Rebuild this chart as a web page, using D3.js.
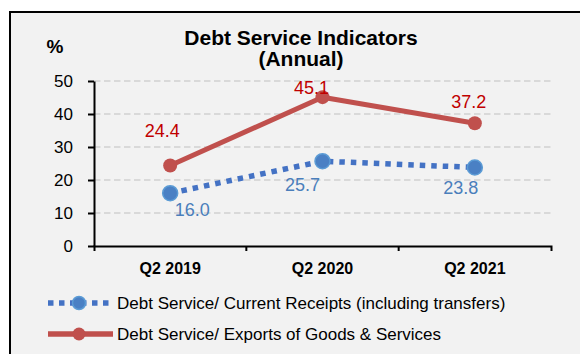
<!DOCTYPE html>
<html>
<head>
<meta charset="utf-8">
<script src="https://cdn.jsdelivr.net/npm/d3@7"></script>
<style>
  html, body { margin: 0; padding: 0; background: #ffffff; }
  svg { display: block; }
  text { font-family: "Liberation Sans", Arial, sans-serif; }
</style>
</head>
<body>
<svg id="chart" width="580" height="354"></svg>
<script>
// Quarters on the x axis
const categories = ["Q2 2019", "Q2 2020", "Q2 2021"];
// Debt service ratios, percent
const receiptsValues = [16.0, 25.7, 23.8];
const exportsValues = [24.4, 45.1, 37.2];
// Y axis ticks
const yTicks = [0, 10, 20, 30, 40, 50];
const seriesNames = [
  "Debt Service/ Current Receipts (including transfers)",
  "Debt Service/ Exports of Goods & Services"
];

// Label nudges (px) relative to each point
const exportsNudge = [[-8, -28], [-11, -3], [-6, -15]];
const receiptsNudge = [[22, 23], [-20, 30], [-14, 27]];

const svg = d3.select("#chart");

// Panel background and frame
svg.append("rect").attr("x", 10).attr("y", 12).attr("width", 600).attr("height", 360)
  .attr("fill", "#f2f2f2").attr("stroke", "#000").attr("stroke-width", 2);

const x = d3.scaleBand().domain(categories).range([94, 551]);
const y = d3.scaleLinear().domain([0, 50]).range([246, 81]);
const cx = d => x(d) + x.bandwidth() / 2;

// Gridlines
svg.append("g").selectAll("line").data(yTicks.filter(t => t > 0)).join("line")
  .attr("x1", 94).attr("x2", 551)
  .attr("y1", d => y(d)).attr("y2", d => y(d))
  .attr("stroke", "#d9d9d9").attr("stroke-width", 2)
  .attr("stroke-dasharray", "6.5,3.5");

// Y axis
const yAxis = svg.append("g").attr("transform", "translate(94,0)")
  .call(d3.axisLeft(y).tickValues(yTicks).tickSize(6).tickSizeOuter(0).tickPadding(15));
yAxis.selectAll("path, line").attr("stroke", "#000").attr("stroke-width", 2);
yAxis.selectAll("text").attr("font-size", 17).attr("fill", "#000")
  .attr("font-family", "'Liberation Sans', Arial, sans-serif");

// X axis
const xAxis = svg.append("g").attr("transform", "translate(0,246)")
  .call(d3.axisBottom(x).tickSize(0).tickSizeOuter(5).tickPadding(17));
xAxis.select("path").attr("stroke", "#000").attr("stroke-width", 2);
xAxis.selectAll("text").attr("font-size", 16).attr("font-weight", "bold").attr("fill", "#000")
  .attr("font-family", "'Liberation Sans', Arial, sans-serif");
xAxis.selectAll("line.bound").data(categories.slice(1)).join("line").attr("class", "bound")
  .attr("x1", d => x(d)).attr("x2", d => x(d)).attr("y1", 0).attr("y2", 5)
  .attr("stroke", "#000").attr("stroke-width", 2);

// "%" unit label
svg.append("text").attr("x", 55).attr("y", 53).attr("text-anchor", "middle")
  .attr("font-size", 19).attr("font-weight", "bold").text("%");

// Title
svg.append("text").attr("x", 301).attr("y", 45).attr("text-anchor", "middle")
  .attr("font-size", 21).attr("font-weight", "bold").text("Debt Service Indicators");
svg.append("text").attr("x", 301).attr("y", 66).attr("text-anchor", "middle")
  .attr("font-size", 21).attr("font-weight", "bold").text("(Annual)");

const line = d3.line().x((d, i) => cx(categories[i])).y(d => y(d));

// Exports series
svg.append("path").datum(exportsValues).attr("d", line)
  .attr("fill", "none").attr("stroke", "#c0504d").attr("stroke-width", 5)
  .attr("stroke-linejoin", "round");
svg.append("g").selectAll("circle").data(exportsValues).join("circle")
  .attr("cx", (d, i) => cx(categories[i])).attr("cy", d => y(d)).attr("r", 7)
  .attr("fill", "#c0504d");

// Receipts series
svg.append("path").datum(receiptsValues).attr("d", line)
  .attr("fill", "none").attr("stroke", "#4472c4").attr("stroke-width", 5.5)
  .attr("stroke-dasharray", "5.5,6");
svg.append("g").selectAll("circle").data(receiptsValues).join("circle")
  .attr("cx", (d, i) => cx(categories[i])).attr("cy", d => y(d)).attr("r", 7.5)
  .attr("fill", "#4a80c4").attr("stroke", "#5b9bd5").attr("stroke-width", 1.5);

// Value labels
svg.append("g").selectAll("text").data(exportsValues).join("text")
  .attr("x", (d, i) => cx(categories[i]) + exportsNudge[i][0])
  .attr("y", (d, i) => y(d) + exportsNudge[i][1])
  .attr("text-anchor", "middle").attr("font-size", 18).attr("fill", "#c00000")
  .text(d => d.toFixed(1));
svg.append("g").selectAll("text").data(receiptsValues).join("text")
  .attr("x", (d, i) => cx(categories[i]) + receiptsNudge[i][0])
  .attr("y", (d, i) => y(d) + receiptsNudge[i][1])
  .attr("text-anchor", "middle").attr("font-size", 18).attr("fill", "#4a7ebb")
  .text(d => d.toFixed(1));

// Legend
const legend = svg.append("g");
const rows = [
  { name: seriesNames[0], color: "#4472c4", dash: "5.5,5.5", marker: "#4a80c4", stroke: "#5b9bd5", y: 303 },
  { name: seriesNames[1], color: "#c0504d", dash: null, marker: "#c0504d", stroke: "none", y: 334 }
];
rows.forEach(r => {
  legend.append("line").attr("x1", 48).attr("x2", 113).attr("y1", r.y).attr("y2", r.y)
    .attr("stroke", r.color).attr("stroke-width", 5.5)
    .attr("stroke-dasharray", r.dash);
  legend.append("circle").attr("cx", 79).attr("cy", r.y).attr("r", 6.5)
    .attr("fill", r.marker).attr("stroke", r.stroke).attr("stroke-width", 1.5);
  legend.append("text").attr("x", 117).attr("y", r.y + 6).attr("font-size", 17)
    .attr("fill", "#000").text(r.name);
});
</script>
</body>
</html>
